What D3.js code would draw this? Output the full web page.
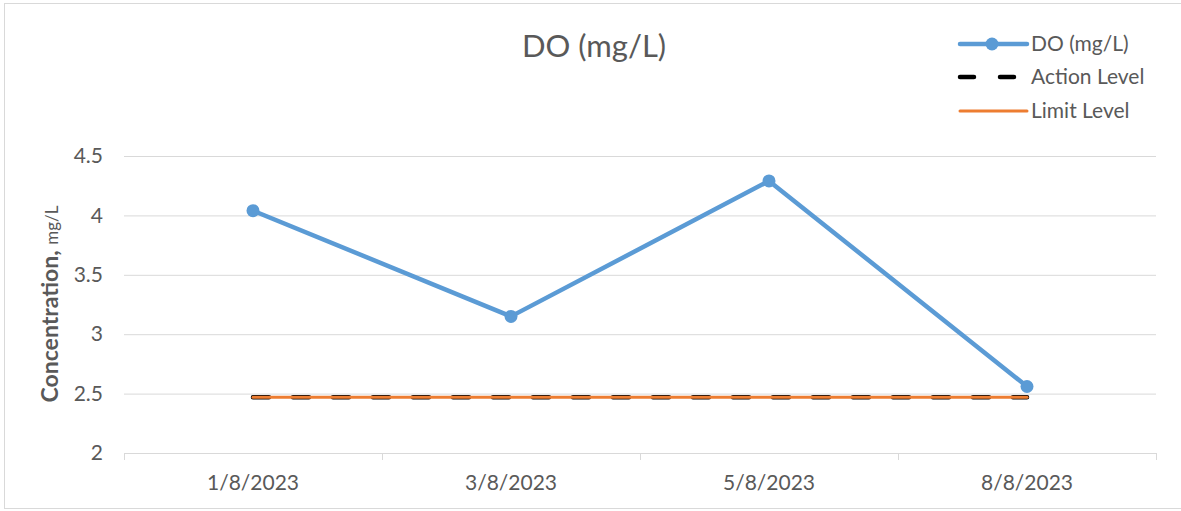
<!DOCTYPE html>
<html><head><meta charset="utf-8">
<script src="https://cdn.jsdelivr.net/npm/d3@7"></script>
<style>body{margin:0;background:#fff;} text{font-family:Lato,sans-serif;}</style>
</head><body><svg id="c" width="1181" height="511"></svg>
<script>
const categories = ["1/8/2023","3/8/2023","5/8/2023","8/8/2023"];
const doValues = [4.04, 3.15, 4.29, 2.56];
const actionLevel = [2.47, 2.47, 2.47, 2.47];
const limitLevel = [2.47, 2.47, 2.47, 2.47];
const yTicks = [2, 2.5, 3, 3.5, 4, 4.5];
const seriesNames = ["DO (mg/L)", "Action Level", "Limit Level"];

const svg = d3.select("#c");
svg.append("rect").attr("x",4.5).attr("y",3.5).attr("width",1190).attr("height",505)
  .attr("fill","#fff").attr("stroke","#d9d9d9").attr("stroke-width",1);

const x = d3.scaleBand().domain(categories).range([124,1156]);
const y = d3.scaleLinear().domain([2,4.5]).range([453,156]);
const cx = d => x(d) + x.bandwidth()/2;

// gridlines
svg.append("g").selectAll("line").data(yTicks.filter(t=>t>2)).join("line")
  .attr("x1",124).attr("x2",1156).attr("y1",d=>y(d)+0.5).attr("y2",d=>y(d)+0.5)
  .attr("stroke","#d9d9d9").attr("stroke-width",1);

// y axis labels
const yAxis = d3.axisLeft(y).tickValues(yTicks).tickSize(0).tickPadding(0).tickFormat(d=>String(d));
const gy = svg.append("g").attr("transform","translate(103,0)").call(yAxis);
gy.select(".domain").remove();
gy.selectAll("text").attr("fill","#595959").style("font-size","21px").attr("font-family","Lato");

// x axis
const xAxis = d3.axisBottom(x).tickSize(0).tickPadding(22);
const gx = svg.append("g").attr("transform","translate(0,453.5)").call(xAxis);
gx.select(".domain").attr("stroke","#d9d9d9").attr("d","M124,0H1156");
gx.selectAll("text").attr("fill","#595959").style("font-size","21px").attr("font-family","Lato");
const bounds = categories.map(c=>x(c)).concat([x(categories[categories.length-1])+x.bandwidth()]);
svg.append("g").selectAll("line").data(bounds).join("line")
  .attr("x1",d=>Math.round(d)+0.5).attr("x2",d=>Math.round(d)+0.5).attr("y1",453).attr("y2",460)
  .attr("stroke","#d9d9d9");

// title
svg.append("text").attr("x",594).attr("y",57).attr("text-anchor","middle")
  .attr("fill","#595959").style("font-size","31px").text("DO (mg/L)");

// y title
const yt = svg.append("text").attr("transform","translate(58,304) rotate(-90)").attr("text-anchor","middle").attr("fill","#595959");
yt.append("tspan").style("font-size","23px").style("font-weight","bold").text("Concentration, ");
yt.append("tspan").style("font-size","17px").text("mg/L");

const line = d3.line().x((d,i)=>cx(categories[i])).y(d=>y(d));

// action level
svg.append("path").datum(actionLevel).attr("d",line).attr("fill","none")
  .attr("stroke","#000").attr("stroke-width",4.5).attr("stroke-dasharray","16 24").attr("stroke-linecap","round");
// limit level
svg.append("path").datum(limitLevel).attr("d",line).attr("fill","none")
  .attr("stroke","#ed7d31").attr("stroke-width",3).attr("stroke-linecap","round");
// DO
svg.append("path").datum(doValues).attr("d",line).attr("fill","none")
  .attr("stroke","#5b9bd5").attr("stroke-width",4.5).attr("stroke-linejoin","round");
svg.append("g").selectAll("circle").data(doValues).join("circle")
  .attr("cx",(d,i)=>cx(categories[i])).attr("cy",d=>y(d)).attr("r",6.5).attr("fill","#5b9bd5");

// legend
const lg = svg.append("g");
const ly = [44, 77, 111];
lg.append("line").attr("x1",960).attr("x2",1027).attr("y1",ly[0]).attr("y2",ly[0]).attr("stroke","#5b9bd5").attr("stroke-width",4.5).attr("stroke-linecap","round");
lg.append("circle").attr("cx",992).attr("cy",ly[0]).attr("r",6.5).attr("fill","#5b9bd5");
lg.append("line").attr("x1",960).attr("x2",1027).attr("y1",ly[1]).attr("y2",ly[1]).attr("stroke","#000").attr("stroke-width",4.5).attr("stroke-dasharray","14 26").attr("stroke-linecap","round");
lg.append("line").attr("x1",960).attr("x2",1027).attr("y1",ly[2]).attr("y2",ly[2]).attr("stroke","#ed7d31").attr("stroke-width",3).attr("stroke-linecap","round");
lg.selectAll("text").data(seriesNames).join("text").attr("x",1031).attr("y",(d,i)=>ly[i]+7)
  .attr("fill","#595959").style("font-size","21px").text(d=>d);
</script></body></html>
